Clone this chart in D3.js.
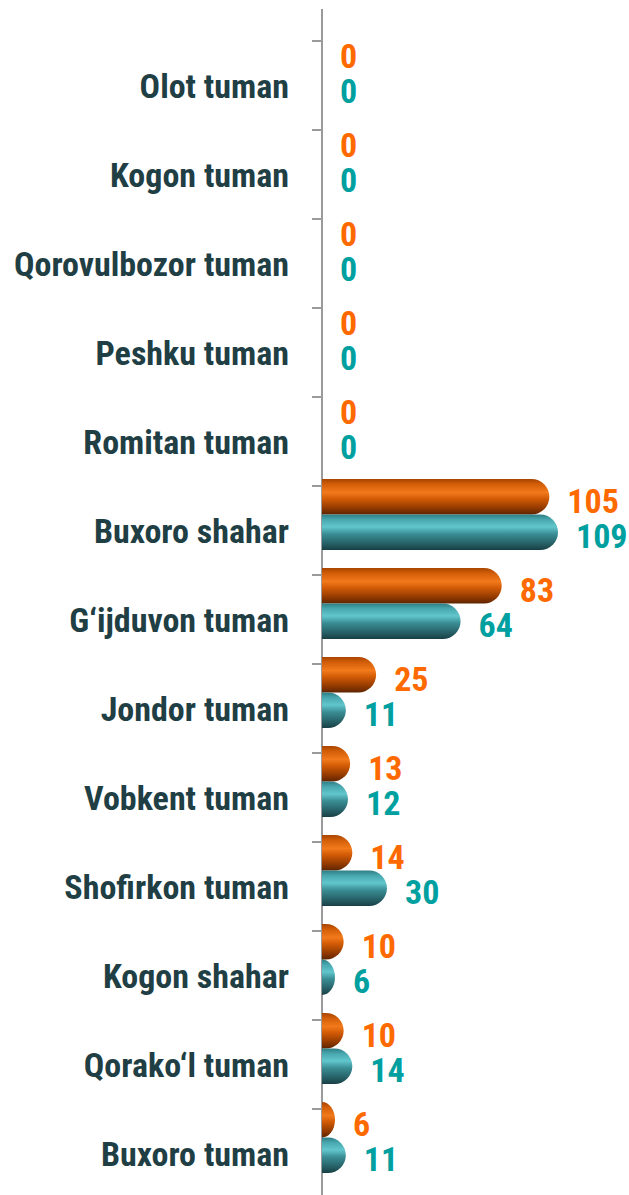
<!DOCTYPE html>
<html>
<head>
<meta charset="utf-8">
<script src="https://cdn.jsdelivr.net/npm/d3@7"></script>
<style>
  body { margin: 0; background: #fff; }
  svg { display: block; font-family: "Roboto Condensed", Roboto, sans-serif; }
</style>
</head>
<body>
<svg id="chart" width="629" height="1195"></svg>
<script>
const categories = [
  "Olot tuman", "Kogon tuman", "Qorovulbozor tuman", "Peshku tuman", "Romitan tuman",
  "Buxoro shahar", "G‘ijduvon tuman", "Jondor tuman", "Vobkent tuman",
  "Shofirkon tuman", "Kogon shahar", "Qorako‘l tuman", "Buxoro tuman"
];
const seriesA = [0, 0, 0, 0, 0, 105, 83, 25, 13, 14, 10, 10, 6];
const seriesB = [0, 0, 0, 0, 0, 109, 64, 11, 12, 30, 6, 14, 11];

const svg = d3.select("#chart");
const axisX = 322;

const defs = svg.append("defs");
function tube(id, stops) {
  const g = defs.append("linearGradient")
    .attr("id", id).attr("x1", 0).attr("y1", 0).attr("x2", 0).attr("y2", 1);
  stops.forEach(([o, c]) => g.append("stop").attr("offset", o).attr("stop-color", c));
}
tube("gradA", [[0, "#a84400"], [0.15, "#d35e08"], [0.38, "#f27a1c"], [0.55, "#d45c06"], [0.85, "#8a3600"], [1, "#5e2400"]]);
tube("gradB", [[0, "#2f7e85"], [0.15, "#49a8b0"], [0.35, "#62c6cd"], [0.55, "#3a8d94"], [0.85, "#245b61"], [1, "#173f44"]]);

const x = d3.scaleLinear().domain([0, 109]).range([axisX, 558]);

const y = d3.scaleBand().domain(categories).range([41, 41 + 89 * categories.length]);
const inner = d3.scaleBand().domain(["a", "b"]).range([-7, 64]);

// axis line and ticks
svg.append("line")
  .attr("x1", axisX).attr("x2", axisX)
  .attr("y1", 9).attr("y2", 1195)
  .attr("stroke", "#9a9a9a").attr("stroke-width", 2);

svg.selectAll(".tick")
  .data(categories)
  .enter()
  .append("line")
  .attr("x1", axisX - 10).attr("x2", axisX)
  .attr("y1", (d) => y(d)).attr("y2", (d) => y(d))
  .attr("stroke", "#9a9a9a").attr("stroke-width", 2);

// category labels
svg.selectAll(".cat")
  .data(categories)
  .enter()
  .append("text")
  .attr("x", 289)
  .attr("y", (d) => y(d) + y.bandwidth() / 2)
  .attr("text-anchor", "end")
  .attr("dominant-baseline", "central")
  .attr("font-size", "34px")
  .attr("font-weight", "bold")
  .attr("fill", "#1f3f45")
  .text((d) => d);

function pill(v, h) {
  const w = x(v) - axisX;
  const r = Math.min(h / 2, w);
  return `M0,0 H${w - r} A${r},${h / 2} 0 0 1 ${w - r},${h} H0 Z`;
}

const series = [
  { key: "a", values: seriesA, grad: "url(#gradA)", color: "#ff6a00" },
  { key: "b", values: seriesB, grad: "url(#gradB)", color: "#00a0a0" }
];

series.forEach((s) => {
  const h = inner.bandwidth();
  svg.append("g")
    .selectAll("path")
    .data(s.values.map((v, i) => ({ v, c: categories[i] })).filter((d) => d.v > 0))
    .enter()
    .append("path")
    .attr("transform", (d) => `translate(${axisX}, ${y(d.c) + inner(s.key)})`)
    .attr("d", (d) => pill(d.v, h))
    .attr("fill", s.grad);

  svg.append("g")
    .selectAll("text")
    .data(s.values.map((v, i) => ({ v, c: categories[i] })))
    .enter()
    .append("text")
    .attr("x", (d) => x(d.v) + 18)
    .attr("y", (d) => y(d.c) + inner(s.key) + h / 2 + 4)
    .attr("dominant-baseline", "central")
    .attr("font-size", "34px")
    .attr("font-weight", "bold")
    .attr("fill", s.color)
    .text((d) => d.v);
});
</script>
</body>
</html>
